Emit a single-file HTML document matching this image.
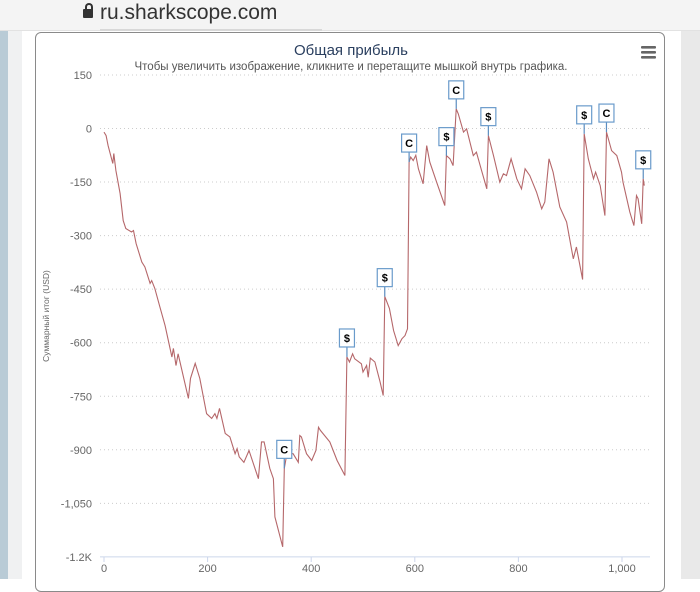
<!DOCTYPE html>
<html><head><meta charset="utf-8"><style>
body{margin:0;width:700px;height:579px;overflow:hidden;background:#fff;font-family:"Liberation Sans","DejaVu Sans",sans-serif;position:relative}
</style></head><body>
<div style="position:absolute;left:0;top:0;width:700px;height:30px;background:#f4f4f4;border-bottom:1px solid #e2e2e2"></div>
<div style="position:absolute;left:100px;top:29px;width:222px;height:2px;background:#d8d8d8"></div>
<div style="position:absolute;left:83px;top:9px;width:10px;height:9px;background:#333;border-radius:1px"></div>
<div style="position:absolute;left:85px;top:3px;width:4px;height:7px;border:2px solid #333;border-bottom:none;border-radius:4px 4px 0 0"></div>
<div style="position:absolute;left:100px;top:1px;font-size:21px;color:#333">ru.sharkscope.com</div>
<div style="position:absolute;left:0;top:31px;width:8px;height:548px;background:#b9cbd6"></div>
<div style="position:absolute;left:8px;top:31px;width:14px;height:548px;background:#f0f1f2"></div>
<div style="position:absolute;left:681px;top:31px;width:19px;height:548px;background:#e9e9e9"></div>
<div style="position:absolute;left:35px;top:32px;width:630px;height:560px;border:1.5px solid #8a8a8a;border-radius:6px;box-sizing:border-box"></div>
<svg id="chart" width="700" height="579" style="position:absolute;left:0;top:0" font-family="Liberation Sans, DejaVu Sans, sans-serif">
<text x="351" y="55" text-anchor="middle" font-size="15" fill="#2a3f5f">Общая прибыль</text>
<text x="351" y="70" text-anchor="middle" font-size="11.5" fill="#555">Чтобы увеличить изображение, кликните и перетащите мышкой внутрь графика.</text>
<g fill="#666"><rect x="641" y="46" width="15" height="2.6" rx="1"/><rect x="641" y="51" width="15" height="2.6" rx="1"/><rect x="641" y="56" width="15" height="2.6" rx="1"/></g>
<text transform="translate(49,316) rotate(-90)" text-anchor="middle" font-size="8.5" fill="#666">Суммарный итог (USD)</text>
<g id="grid"></g><g id="series"></g><g id="flags"></g>
</svg>
<script>
const yTicks=[150,0,-150,-300,-450,-600,-750,-900,-1050,-1200];
const yTickLabels=["150","0","-150","-300","-450","-600","-750","-900","-1,050","-1.2K"];
const xTicks=[0,200,400,600,800,1000];
const xTickLabels=["0","200","400","600","800","1,000"];
const seriesX=[0,4,8,17,19,23,31,37,42,53,57,62,73,79,89,92,98,108,118,131,134,139,143,163,167,176,185,198,208,214,218,223,234,243,253,257,261,270,280,298,304,309,320,327,330,345,348,353,365,375,378,381,391,401,409,414,418,436,450,465,469,474,480,484,497,500,507,510,514,523,533,539,542,551,559,568,575,581,586,589,592,597,602,607,616,623,629,642,658,661,668,674,680,684,694,700,713,719,729,739,742,752,764,771,777,786,797,806,813,822,835,845,851,859,867,880,893,906,912,924,927,935,945,949,958,967,970,980,990,999,1002,1015,1023,1028,1031,1038,1041,1043];
const seriesY=[-10,-20,-48,-98,-70,-118,-182,-258,-280,-290,-286,-322,-374,-388,-434,-426,-448,-500,-552,-640,-616,-664,-631,-756,-700,-658,-700,-799,-812,-799,-812,-784,-854,-864,-911,-897,-920,-935,-902,-981,-878,-878,-952,-981,-1088,-1172,-952,-911,-911,-935,-860,-864,-911,-930,-902,-837,-846,-878,-930,-972,-640,-654,-631,-645,-659,-682,-664,-697,-643,-654,-710,-748,-471,-504,-566,-608,-589,-580,-561,-94,-80,-90,-75,-113,-155,-48,-94,-150,-216,-76,-85,-104,55,41,-10,-1,-76,-66,-118,-169,-20,-76,-150,-127,-132,-85,-141,-169,-113,-132,-178,-225,-206,-85,-122,-220,-262,-365,-332,-423,-15,-85,-141,-122,-160,-244,-10,-62,-76,-122,-150,-234,-272,-188,-197,-267,-141,-160];
const flagX=[348,469,542,589,661,680,742,927,970,1041];
const flagY=[-952,-640,-471,-94,-76,55,-20,-15,-10,-141];
const flagLabels=["C","$","$","C","$","C","$","$","C","$"];
const xs=v=>104+v*0.518, ys=v=>128.5-v*0.357;
const NS="http://www.w3.org/2000/svg";
function mk(t,a,p){const e=document.createElementNS(NS,t);for(const k in a)e.setAttribute(k,a[k]);p.appendChild(e);return e;}
const g=document.getElementById('grid');
yTicks.forEach((t,i)=>{
 const l=mk('line',{x1:100,x2:650,y1:ys(t),y2:ys(t),stroke:t===-1200?'#ccd6eb':'#ccc','stroke-dasharray':t===-1200?'':'1,3','stroke-width':1},g);
 
 
 const tx=mk('text',{x:92,y:ys(t)+4,'text-anchor':'end','font-size':11,fill:'#666'},g);tx.textContent=yTickLabels[i];
 
 
});
xTicks.forEach((t,i)=>{
 const l=mk('line',{x1:xs(t),x2:xs(t),y1:557,y2:562,stroke:'#ccd6eb'},g);
 
 
 const tx=mk('text',{x:xs(t),y:572,'text-anchor':'middle','font-size':11,fill:'#666'},g);tx.textContent=xTickLabels[i];
 
 
});
const s=document.getElementById('series');
const p=mk('path',{d:seriesX.map((x,i)=>(i?'L':'M')+xs(x).toFixed(1)+','+ys(seriesY[i]).toFixed(1)).join(''),fill:'none',stroke:'#b5676a','stroke-width':1.1},s);


const f=document.getElementById('flags');
flagX.forEach((x,i)=>{
 const cx=xs(x),py=ys(flagY[i]);
 const grp=mk('g',{},f);
 
 
 mk('line',{x1:cx,x2:cx,y1:py-10,y2:py,stroke:'#5b8dc0','stroke-width':1.2},grp);
 mk('rect',{x:cx-7.5,y:py-28,width:15,height:18,fill:'#fff',stroke:'#6a9bcb','stroke-width':1.2},grp);
 const t=mk('text',{x:cx,y:py-15,'text-anchor':'middle','font-size':11,'font-weight':'bold',fill:'#000'},grp);t.textContent=flagLabels[i];
});
</script>
</body></html>
